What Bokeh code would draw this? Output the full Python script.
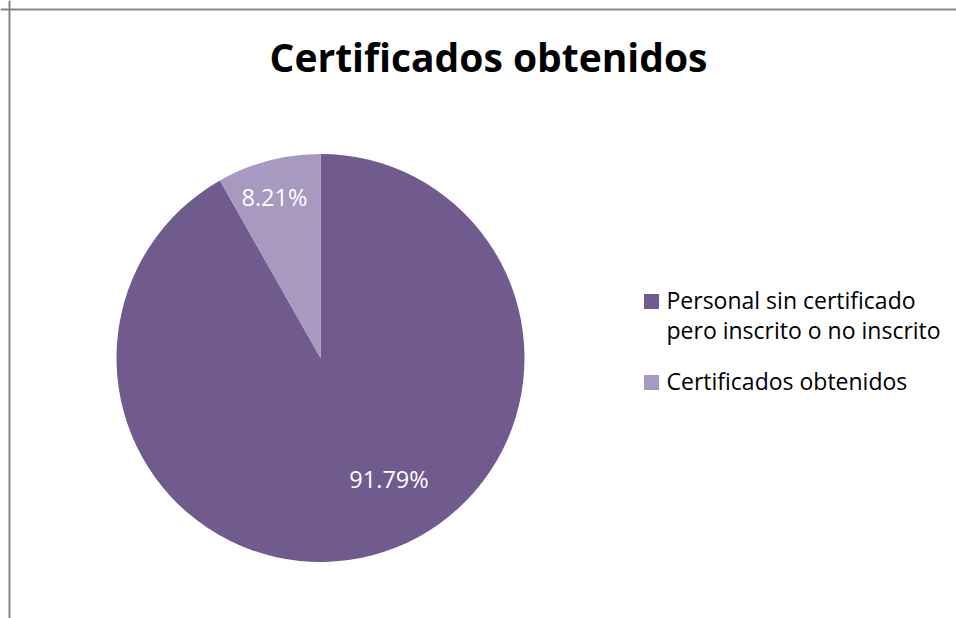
import math
import textwrap
from bokeh.plotting import figure
from bokeh.models import Range1d, Span, ColumnDataSource
from bokeh.core.properties import value
from bokeh.embed import file_html
from bokeh.resources import INLINE

# ---- data ----
title_text = "Certificados obtenidos"
categories = ["Personal sin certificado pero inscrito o no inscrito", "Certificados obtenidos"]
shares = [91.79, 8.21]
label_texts = ["91.79%", "8.21%"]
colors = ["#715A8E", "#A799BF"]

# ---- layout / style ----
W, H = 956, 618
FONT = "Open Sans"
cx, cy, R = 320, 260.5, 204
# label anchor (angle in degrees, fraction of radius) per slice
label_pos = [(-62.2, 0.72), (106.9, 0.777)]
NUDGE = 0.4  # baseline correction, in em

p = figure(width=W, height=H, output_backend="svg", toolbar_location=None,
           x_range=Range1d(0, W), y_range=Range1d(0, H),
           title_location=None, min_border=0)
p.min_border_left = p.min_border_right = p.min_border_top = p.min_border_bottom = 0
p.axis.visible = False
p.grid.visible = False
p.outline_line_color = None
p.background_fill_color = "white"
p.border_fill_color = "white"

# chart-area border (left and top only visible)
p.add_layout(Span(location=9, dimension="height", line_color="#858585", line_width=2))
p.add_layout(Span(location=H - 9, dimension="width", line_color="#858585", line_width=2))

# wedges: start at 12 o'clock, go clockwise
total = sum(shares)
starts, ends = [], []
acc = 0.0
for s in shares:
    a0 = math.pi / 2 - 2 * math.pi * acc / total
    a1 = math.pi / 2 - 2 * math.pi * (acc + s) / total
    starts.append(a1)
    ends.append(a0)
    acc += s

src = ColumnDataSource(dict(start=starts, end=ends, color=colors))
p.wedge(x=cx, y=cy, radius=R, start_angle="start", end_angle="end",
        fill_color="color", line_color=None, source=src)

# data labels
lab_fs = 23.5
lx = [cx + f * R * math.cos(math.radians(a)) for a, f in label_pos]
ly = [cy + f * R * math.sin(math.radians(a)) + NUDGE * lab_fs for a, f in label_pos]
p.text(x=lx, y=ly, text=label_texts, text_color="white", text_align="center",
       text_baseline="alphabetic", text_font=value(FONT), text_font_size=f"{lab_fs}px")

# title
title_fs = 39
p.text(x=[488], y=[546 + NUDGE * title_fs], text=[title_text], text_color="black",
       text_align="center", text_baseline="alphabetic", text_font=value(FONT),
       text_font_size=f"{title_fs}px", text_font_style="bold")

# legend (manual)
leg_fs = 23
sq_x = 651
sq_y = [317, 236]
p.rect(x=[sq_x] * len(categories), y=sq_y, width=15, height=15,
       fill_color=colors, line_color=None)
tx, ty, tt = [], [], []
line_gap = 30
for i, cat in enumerate(categories):
    lines = textwrap.wrap(cat, width=27)
    base = sq_y[i] - 7.3 + NUDGE * leg_fs
    for j, ln in enumerate(lines):
        tx.append(666)
        ty.append(base - j * line_gap)
        tt.append(ln)
p.text(x=tx, y=ty, text=tt, text_color="black", text_align="left",
       text_baseline="alphabetic", text_font=value(FONT), text_font_size=f"{leg_fs}px")

open("out.html", "w").write(file_html(p, INLINE))
